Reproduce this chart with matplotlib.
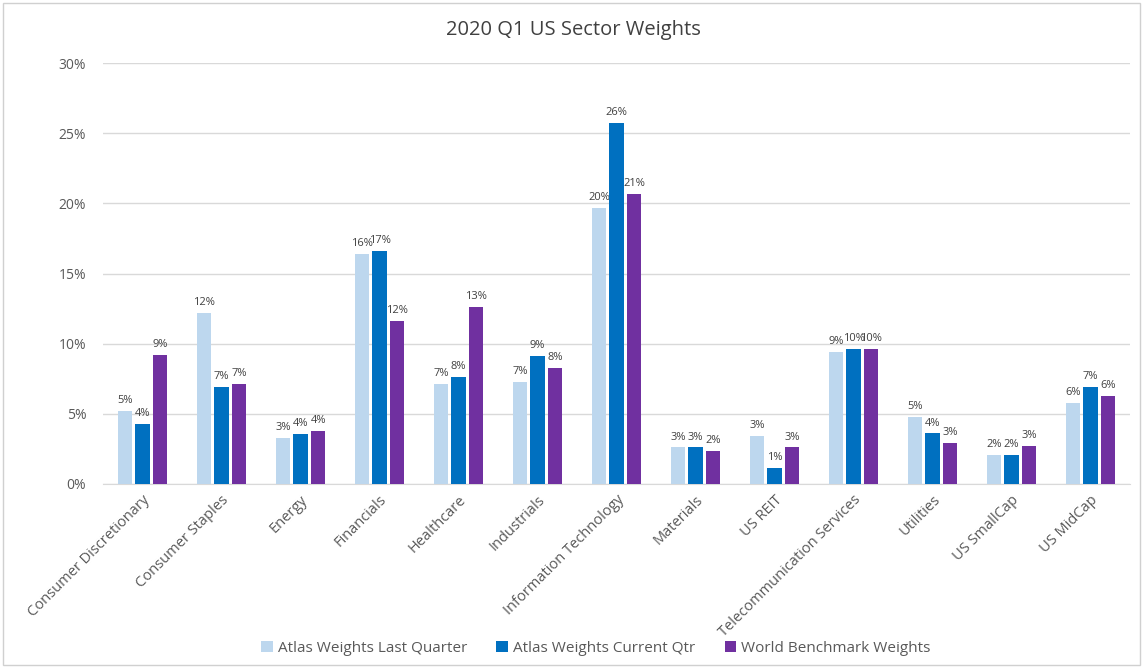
import matplotlib
matplotlib.use("Agg")
import matplotlib.pyplot as plt
import numpy as np
from matplotlib.patches import Rectangle

plt.rcParams['font.family'] = ['Open Sans', 'DejaVu Sans']

sectors = ["Consumer Discretionary", "Consumer Staples", "Energy", "Financials",
           "Healthcare", "Industrials", "Information Technology", "Materials",
           "US REIT", "Telecommunication Services", "Utilities", "US SmallCap",
           "US MidCap"]
last_qtr = [5.2, 12.2, 3.3, 16.4, 7.1, 7.3, 19.7, 2.6, 3.4, 9.4, 4.8, 2.1, 5.8]
current_qtr = [4.3, 6.9, 3.55, 16.6, 7.6, 9.1, 25.7, 2.6, 1.15, 9.6, 3.6, 2.1, 6.9]
benchmark = [9.2, 7.1, 3.8, 11.6, 12.6, 8.3, 20.7, 2.35, 2.6, 9.6, 2.9, 2.7, 6.3]
series_names = ["Atlas Weights Last Quarter", "Atlas Weights Current Qtr",
                "World Benchmark Weights"]
colors = ["#BDD7EE", "#0070C0", "#7030A0"]

fig = plt.figure(figsize=(11.46, 6.67), dpi=100)
ax = fig.add_axes([0.0899, 0.2744, 0.8962, 0.6311])

x = np.arange(len(sectors))
w = 0.18
step = 0.222
for i, (vals, name, c) in enumerate(zip([last_qtr, current_qtr, benchmark], series_names, colors)):
    pos = x + (i - 1) * step
    bars = ax.bar(pos, vals, w, color=c, label=name, zorder=3)
    for b, v in zip(bars, vals):
        ax.text(b.get_x() + b.get_width() / 2, v + 0.35, "%d%%" % round(v),
                ha="center", va="bottom", fontsize=8, color="#404040")

ax.set_xlim(-0.5, len(sectors) - 0.5)
ax.set_ylim(0, 30)
ax.set_yticks(range(0, 31, 5))
ax.set_yticklabels(["%d%%" % t for t in range(0, 31, 5)], fontsize=10, color="#595959")
ax.yaxis.grid(True, color="#D9D9D9", linewidth=1, zorder=0)
ax.set_xticks(x)
ax.set_xticklabels(sectors, rotation=45, ha="right", rotation_mode="anchor",
                   fontsize=10.5, color="#595959")
ax.tick_params(axis="y", length=0, pad=12)
ax.tick_params(axis="x", length=0, pad=6)
for s in ["top", "right", "left"]:
    ax.spines[s].set_visible(False)
ax.spines["bottom"].set_color("#D9D9D9")

fig.text(0.5, 0.955, "2020 Q1 US Sector Weights", ha="center", va="center",
         fontsize=14.5, color="#404040")

ax.legend(loc="center", bbox_to_anchor=(0.48, -0.39), ncol=3, frameon=False,
          fontsize=11, handlelength=0.75, handleheight=0.75, handletextpad=0.35,
          columnspacing=1.9, labelcolor="#595959")

fig.patches.append(Rectangle((0.003, 0.003), 0.992, 0.992, transform=fig.transFigure,
                             fill=False, edgecolor="#D0D0D0", linewidth=1))

fig.savefig("out.png", dpi=100)
